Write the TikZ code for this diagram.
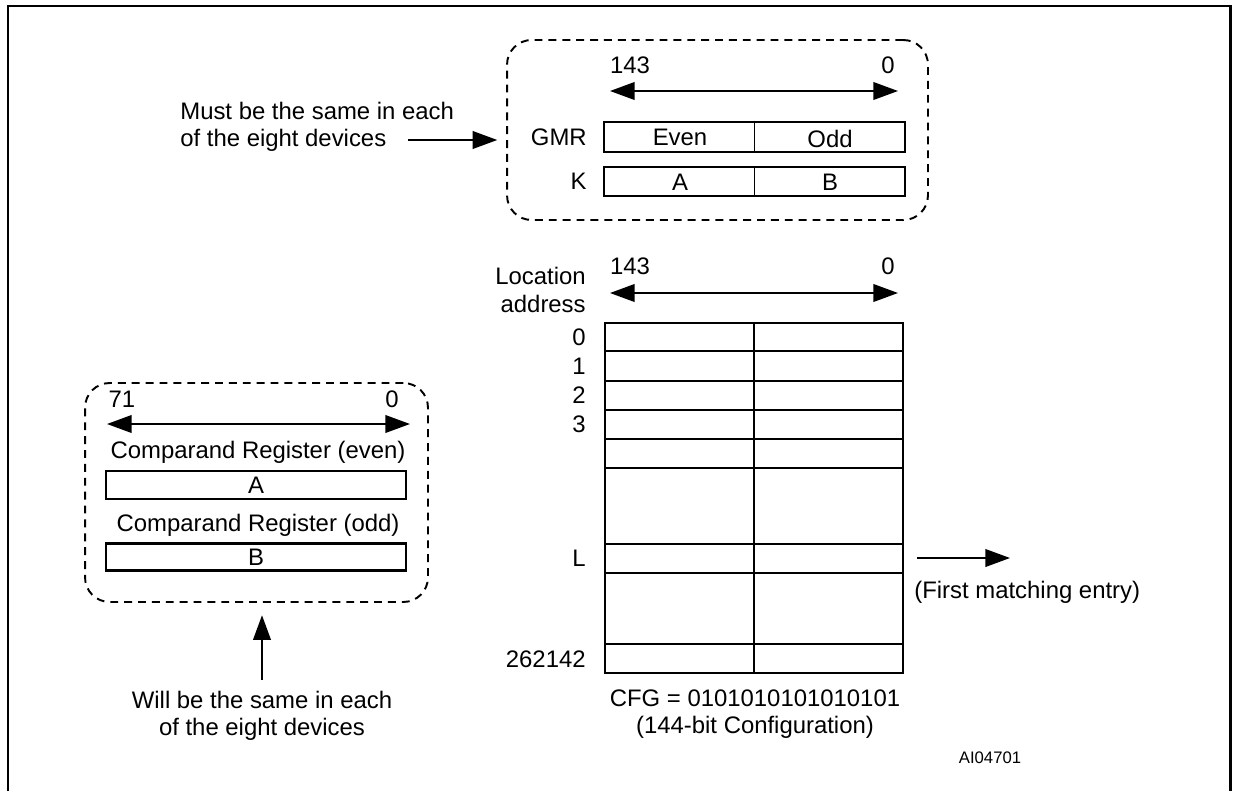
\documentclass[tikz,border=0pt]{standalone}
\usepackage{fontspec}
\setmainfont{Liberation Sans}
\usetikzlibrary{arrows.meta}

\tikzset{
  lbl/.style={inner sep=0pt},
  regbox/.style={draw, line width=1.6pt, inner sep=0pt},
  groupbox/.style={draw, dash pattern=on 4.5pt off 3.4pt, line width=1.1pt, rounded corners=14pt, inner sep=0pt},
  bigarrow/.style={-{Triangle[length=14pt,width=10pt]}, line width=1.1pt},
  bitarrow/.style={{Triangle[length=14pt,width=10pt]}-{Triangle[length=14pt,width=10pt]}, line width=1.1pt},
  frame/.style={line width=1.7pt},
}

\begin{document}
\begin{tikzpicture}[x=0.02cm, y=-0.02cm, font=\fontsize{13.6}{15.5}\selectfont]
    \useasboundingbox (0,0) rectangle (1233,791);
    % Frame
    \draw[frame] (8,791) -- (8,6) -- (1230,6) -- (1230,791);

    % Global mask register group
    \node[groupbox, minimum width=8.42cm, minimum height=3.6cm] (topgrp) at (717.5,130) {};
    \node[lbl] (t143) at (630,65) {143};
    \node[lbl] (t0) at (888,65) {0};
    \coordinate (tl) at (610,91);
    \coordinate (tr) at (898,91);
    \draw[bitarrow] (tl) -- (tr);
    \node[regbox, minimum width=6.02cm, minimum height=0.6cm] (gmr) at (754.5,137) {};
    \draw[line width=1.1pt] (gmr.north) -- (gmr.south);
    \node[lbl] at (680,137) {Even};
    \node[lbl] at (830,139) {Odd};
    \node[lbl, anchor=east] (gmrlbl) at (587,137) {GMR};
    \node[regbox, minimum width=6.02cm, minimum height=0.58cm] (kreg) at (754.5,181.5) {};
    \draw[line width=1.1pt] (kreg.north) -- (kreg.south);
    \node[lbl] at (680,182) {A};
    \node[lbl] at (830,182) {B};
    \node[lbl, anchor=east] (klbl) at (587,181) {K};

    \node[lbl, align=left, anchor=west] (must) at (180,127) {Must be the same in each\\of the eight devices};
    \coordinate (musttail) at (408,140);
    \draw[bigarrow, shorten >=5pt] (musttail) -- (musttail -| topgrp.west);

    % CAM array
    \node[lbl] (a143) at (630,266) {143};
    \node[lbl] (a0) at (888,266) {0};
    \coordinate (al) at (610,293);
    \coordinate (ar) at (898,293);
    \draw[bitarrow] (al) -- (ar);
    \node[lbl, align=right, anchor=east] (locaddr) at (586,290) {Location\\address};
    \node[regbox, minimum width=5.96cm, minimum height=7.0cm] (cam) at (754,498) {};
    \draw[line width=1.1pt] (cam.north) -- (cam.south);
    \foreach \y in {351,381,410,439,468,544,573,644}
        \draw[line width=1.6pt] (605,\y) -- (903,\y);
    \foreach \y/\t in {337/0,366/1,395/2,424/3,558/L,659/262142}
        \node[lbl, anchor=east] at (586,\y) {\t};

    \coordinate (lrow) at (903,558);
    \coordinate (lhead) at (1010,558);
    \draw[bigarrow, shorten <=8pt] (lrow) -- (lhead);
    \node[lbl, anchor=west] (first) at (914,592) {(First matching entry)};

    \node[lbl, align=center] (cfg) at (755,714) {CFG = 0101010101010101\\(144-bit Configuration)};
    \node[lbl, font=\fontsize{9.5}{11}\selectfont] (ai) at (990,758) {AI04701};

    % Comparand registers group
    \node[groupbox, minimum width=6.86cm, minimum height=4.38cm] (leftgrp) at (256.5,492.5) {};
    \node[lbl] (c71) at (122,399) {71};
    \node[lbl] (c0) at (392,399) {0};
    \coordinate (cl) at (107,424);
    \coordinate (cr) at (410,424);
    \draw[bitarrow] (cl) -- (cr);
    \node[lbl] (evenlbl) at (258,452) {Comparand Register (even)};
    \node[regbox, minimum width=6cm, minimum height=0.56cm] (areg) at (256,485) {A};
    \node[lbl] (oddlbl) at (258,525) {Comparand Register (odd)};
    \node[regbox, minimum width=6cm, minimum height=0.54cm] (breg) at (256,557) {B};

    \node[lbl, align=center] (will) at (262,716) {Will be the same in each\\of the eight devices};
    \coordinate (willtail) at (262,680);
    \draw[bigarrow, shorten >=7pt] (willtail) -- (willtail |- leftgrp.south);
\end{tikzpicture}
\end{document}
